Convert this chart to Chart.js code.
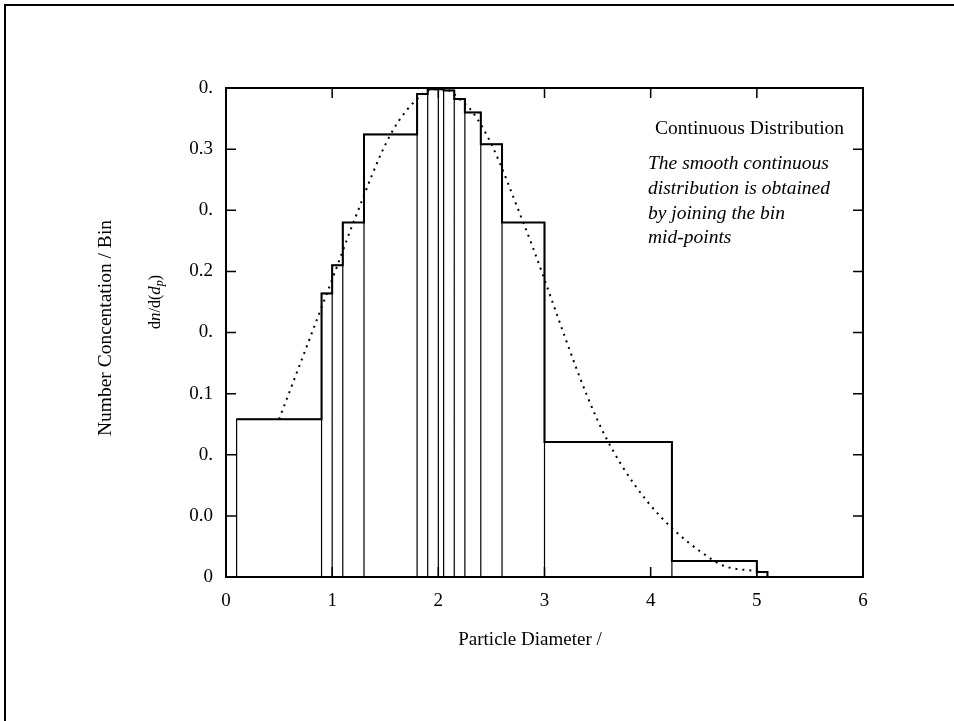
<!DOCTYPE html>
<html>
<head>
<meta charset="utf-8">
<title>Continuous Distribution</title>
<script src="https://cdn.jsdelivr.net/npm/chart.js@4.4.0/dist/chart.umd.min.js"></script>
<style>
html, body { margin: 0; padding: 0; background: #fff; }
#wrap { position: relative; width: 954px; height: 721px; overflow: hidden; }
#frame { position: absolute; left: 4px; top: 4px; width: 980px; height: 740px; border-left: 2px solid #000; border-top: 2px solid #000; pointer-events: none; }
canvas { position: absolute; left: 0; top: 0; }
</style>
</head>
<body>
<div id="wrap">
    <canvas id="chart" width="954" height="721"></canvas>
    <div id="frame"></div>
</div>
<script>
// 데이터
const binEdges = [0.1, 0.9, 1.0, 1.1, 1.3, 1.8, 1.9, 2.0, 2.05, 2.15, 2.25, 2.4, 2.6, 3.0, 4.2, 5.0, 5.1];
const binHeights = [0.129, 0.232, 0.255, 0.290, 0.362, 0.395, 0.399, 0.399, 0.398, 0.391, 0.380, 0.354, 0.290, 0.1105, 0.013, 0.004];
const xTicks = [0, 1, 2, 3, 4, 5, 6];
const yTickLabels = ['0', '0.0', '0.', '0.1', '0.', '0.2', '0.', '0.3', '0.'];
const xTitle = 'Particle Diameter /';
const yTitle = 'Number Concentation / Bin';
const noteTitle = 'Continuous Distribution';
const noteLines = ['The smooth continuous', 'distribution is obtained', 'by joining the bin', 'mid-points'];

const FONT = "'Liberation Serif', 'Times New Roman', serif";
Chart.defaults.font.family = FONT;
Chart.defaults.color = '#000';

// 각 bin 사각형 테두리
function binOutline() {
    const pts = [];
    binHeights.forEach((h, i) => {
        const x0 = binEdges[i], x1 = binEdges[i + 1];
        pts.push({ x: x0, y: 0 }, { x: x0, y: h }, { x: x1, y: h }, { x: x1, y: 0 });
    });
    return pts;
}

// 바깥 계단선 (굵게)
function envelope() {
    const pts = [];
    binHeights.forEach((h, i) => {
        pts.push({ x: binEdges[i], y: h }, { x: binEdges[i + 1], y: h });
    });
    pts.push({ x: binEdges[binEdges.length - 1], y: 0 });
    return pts;
}

// bin 중간점을 잇는 곡선
function midPoints() {
    return binHeights.map((h, i) => ({ x: (binEdges[i] + binEdges[i + 1]) / 2, y: h }));
}

const framePlugin = {
    id: 'frame',
    afterDraw(chart) {
        const { ctx, chartArea: a, scales } = chart;
        ctx.save();
        ctx.strokeStyle = '#000';
        ctx.lineWidth = 2;
        ctx.strokeRect(a.left, a.top, a.right - a.left, a.bottom - a.top);

        // 안쪽으로 향하는 눈금
        ctx.lineWidth = 1.5;
        ctx.beginPath();
        scales.x.ticks.forEach(t => {
            const px = scales.x.getPixelForValue(t.value);
            ctx.moveTo(px, a.bottom); ctx.lineTo(px, a.bottom - 10);
            ctx.moveTo(px, a.top); ctx.lineTo(px, a.top + 10);
        });
        scales.y.ticks.forEach(t => {
            const py = scales.y.getPixelForValue(t.value);
            ctx.moveTo(a.left, py); ctx.lineTo(a.left + 10, py);
            ctx.moveTo(a.right, py); ctx.lineTo(a.right - 10, py);
        });
        ctx.stroke();

        ctx.fillStyle = '#000';
        ctx.textBaseline = 'middle';

        // 축 제목
        ctx.font = `19px ${FONT}`;
        ctx.textAlign = 'center';
        ctx.fillText(xTitle, 530, 640);

        ctx.save();
        ctx.translate(106, 328);
        ctx.rotate(-Math.PI / 2);
        ctx.font = `19.5px ${FONT}`;
        ctx.fillText(yTitle, 0, 0);
        ctx.restore();

        // dn/d(dp)
        ctx.save();
        ctx.translate(156, 302);
        ctx.rotate(-Math.PI / 2);
        const parts = [
            ['d', `16px ${FONT}`, 0],
            ['n', `italic 17px ${FONT}`, 0],
            ['/d(', `16px ${FONT}`, 0],
            ['d', `italic 17px ${FONT}`, 0],
            ['p', `italic 12px ${FONT}`, 4],
            [')', `16px ${FONT}`, 0]
        ];
        let w = 0;
        parts.forEach(p => { ctx.font = p[1]; w += ctx.measureText(p[0]).width; });
        let cx = -w / 2;
        ctx.textAlign = 'left';
        parts.forEach(p => {
            ctx.font = p[1];
            ctx.fillText(p[0], cx, p[2]);
            cx += ctx.measureText(p[0]).width;
        });
        ctx.restore();

        // 주석
        ctx.textAlign = 'left';
        ctx.font = `19.5px ${FONT}`;
        ctx.fillText(noteTitle, 655, 129);
        ctx.font = `italic 19.5px ${FONT}`;
        noteLines.forEach((line, i) => ctx.fillText(line, 648, 164 + i * 24.7));
        ctx.restore();
    }
};

const ctx = document.getElementById('chart').getContext('2d');
new Chart(ctx, {
    type: 'line',
    data: {
        datasets: [
            { label: 'bins', data: binOutline(), borderColor: '#000', borderWidth: 1.2, pointRadius: 0, tension: 0, fill: false },
            { label: 'envelope', data: envelope(), borderColor: '#000', borderWidth: 2, pointRadius: 0, tension: 0, fill: false },
            { label: 'curve', data: midPoints(), borderColor: '#000', borderWidth: 2, borderDash: [2, 5], pointRadius: 0, cubicInterpolationMode: 'monotone', fill: false }
        ]
    },
    options: {
        responsive: false,
        animation: false,
        devicePixelRatio: 1,
        layout: { padding: { left: 0, top: 88, right: 91, bottom: 0 } },
        plugins: { legend: { display: false }, tooltip: { enabled: false } },
        scales: {
            x: {
                type: 'linear', min: 0, max: 6,
                afterBuildTicks: s => { s.ticks = xTicks.map(v => ({ value: v })); },
                grid: { display: false }, border: { display: false },
                ticks: { padding: 5, font: { size: 19 }, maxRotation: 0 },
                afterFit: s => { s.height = 144; }
            },
            y: {
                min: 0, max: 0.4,
                ticks: { stepSize: 0.05, callback: (v, i) => yTickLabels[i], padding: 5, font: { size: 19 } },
                grid: { display: false }, border: { display: false },
                afterFit: s => { s.width = 226; }
            }
        }
    },
    plugins: [framePlugin]
});
</script>
</body>
</html>
